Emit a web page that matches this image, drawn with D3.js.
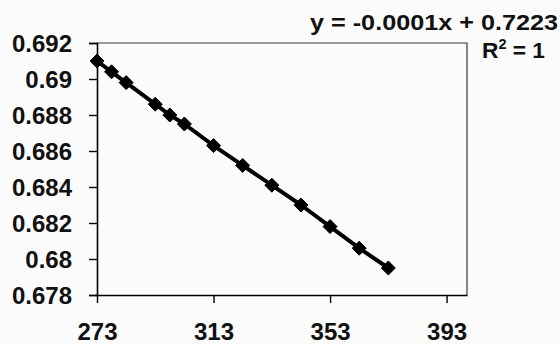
<!DOCTYPE html>
<html>
<head>
<meta charset="utf-8">
<script src="https://cdn.jsdelivr.net/npm/d3@7"></script>
<style>
  html, body { margin: 0; padding: 0; background: #fbfbfb; }
  svg { display: block; }
  text { font-family: "Liberation Sans", Arial, sans-serif; fill: #111; }
</style>
</head>
<body>
<svg id="chart" width="560" height="344"></svg>
<script>
// Data
const temperatures = [273, 278, 283, 293, 298, 303, 313, 323, 333, 343, 353, 363, 373];
const voltages = [0.6910, 0.6904, 0.6898, 0.6886, 0.6880, 0.6875, 0.6863, 0.6852, 0.6841, 0.6830, 0.6818, 0.6806, 0.6795];
const xTicks = [273, 313, 353, 393];
const yTicks = [0.692, 0.69, 0.688, 0.686, 0.684, 0.682, 0.68, 0.678];
const xDomain = [273, 400];
const yDomain = [0.678, 0.692];
const equationText = "y = -0.0001x + 0.7223";
const r2Value = "1";

const svg = d3.select("#chart");
const margin = { left: 97, top: 43, right: 93, bottom: 49 };
const W = 560 - margin.left - margin.right;   // 370
const H = 344 - margin.top - margin.bottom;   // 252

const x = d3.scaleLinear().domain(xDomain).range([0, W]);
const y = d3.scaleLinear().domain(yDomain).range([H, 0]);

const g = svg.append("g").attr("transform", `translate(${margin.left},${margin.top})`);

// plot frame (top + right)
g.append("path")
  .attr("d", `M0,0H${W}V${H}`)
  .attr("fill", "none")
  .attr("stroke", "#3a3a3a")
  .attr("stroke-width", 1.2);

// series line
const line = d3.line().x((d, i) => x(temperatures[i])).y(d => y(d));
g.append("path")
  .datum(voltages)
  .attr("d", line)
  .attr("fill", "none")
  .attr("stroke", "#000")
  .attr("stroke-width", 4)
  .attr("stroke-linejoin", "round");

// diamond markers
const r = 7;
g.selectAll("path.marker")
  .data(voltages)
  .join("path")
  .attr("class", "marker")
  .attr("transform", (d, i) => `translate(${x(temperatures[i])},${y(d)})`)
  .attr("d", `M0,${-r}L${r},0L0,${r}L${-r},0Z`)
  .attr("fill", "#000")
  .attr("stroke", "#000")
  .attr("stroke-width", 1)
  .attr("stroke-linejoin", "round");

// axes
const yAxis = d3.axisLeft(y)
  .tickValues(yTicks)
  .tickFormat(d => String(+d.toFixed(3)))
  .tickSize(8)
  .tickPadding(17);
const ya = g.append("g").call(yAxis);
ya.select(".domain").attr("stroke", "#000").attr("stroke-width", 1.6);
ya.selectAll(".tick line").attr("stroke", "#000").attr("stroke-width", 1.4);
ya.selectAll(".tick text")
  .attr("font-size", 24).attr("font-weight", "bold")
  .attr("font-family", "Liberation Sans, Arial, sans-serif")
  .attr("fill", "#111").attr("dy", "0.35em");

const xAxis = d3.axisBottom(x)
  .tickValues(xTicks)
  .tickFormat(d3.format("d"))
  .tickSize(8)
  .tickSizeOuter(0);
const xa = g.append("g").attr("transform", `translate(0,${H})`).call(xAxis);
xa.select(".domain").attr("stroke", "#000").attr("stroke-width", 1.6);
xa.selectAll(".tick line").attr("stroke", "#000").attr("stroke-width", 1.4);
xa.selectAll(".tick text")
  .attr("font-size", 24).attr("font-weight", "bold")
  .attr("font-family", "Liberation Sans, Arial, sans-serif")
  .attr("fill", "#111").attr("y", 45).attr("dy", 0);

// trendline label
svg.append("text")
  .attr("x", 310).attr("y", 30)
  .attr("font-size", 22).attr("font-weight", "bold")
  .attr("textLength", 248).attr("lengthAdjust", "spacingAndGlyphs")
  .text(equationText);

const r2 = svg.append("text")
  .attr("x", 482).attr("y", 58)
  .attr("font-size", 22).attr("font-weight", "bold")
  .attr("textLength", 63).attr("lengthAdjust", "spacingAndGlyphs");
r2.append("tspan").text("R");
r2.append("tspan").attr("font-size", 14).attr("dy", -9).text("2");
r2.append("tspan").attr("dy", 9).text(" = " + r2Value);
</script>
</body>
</html>
